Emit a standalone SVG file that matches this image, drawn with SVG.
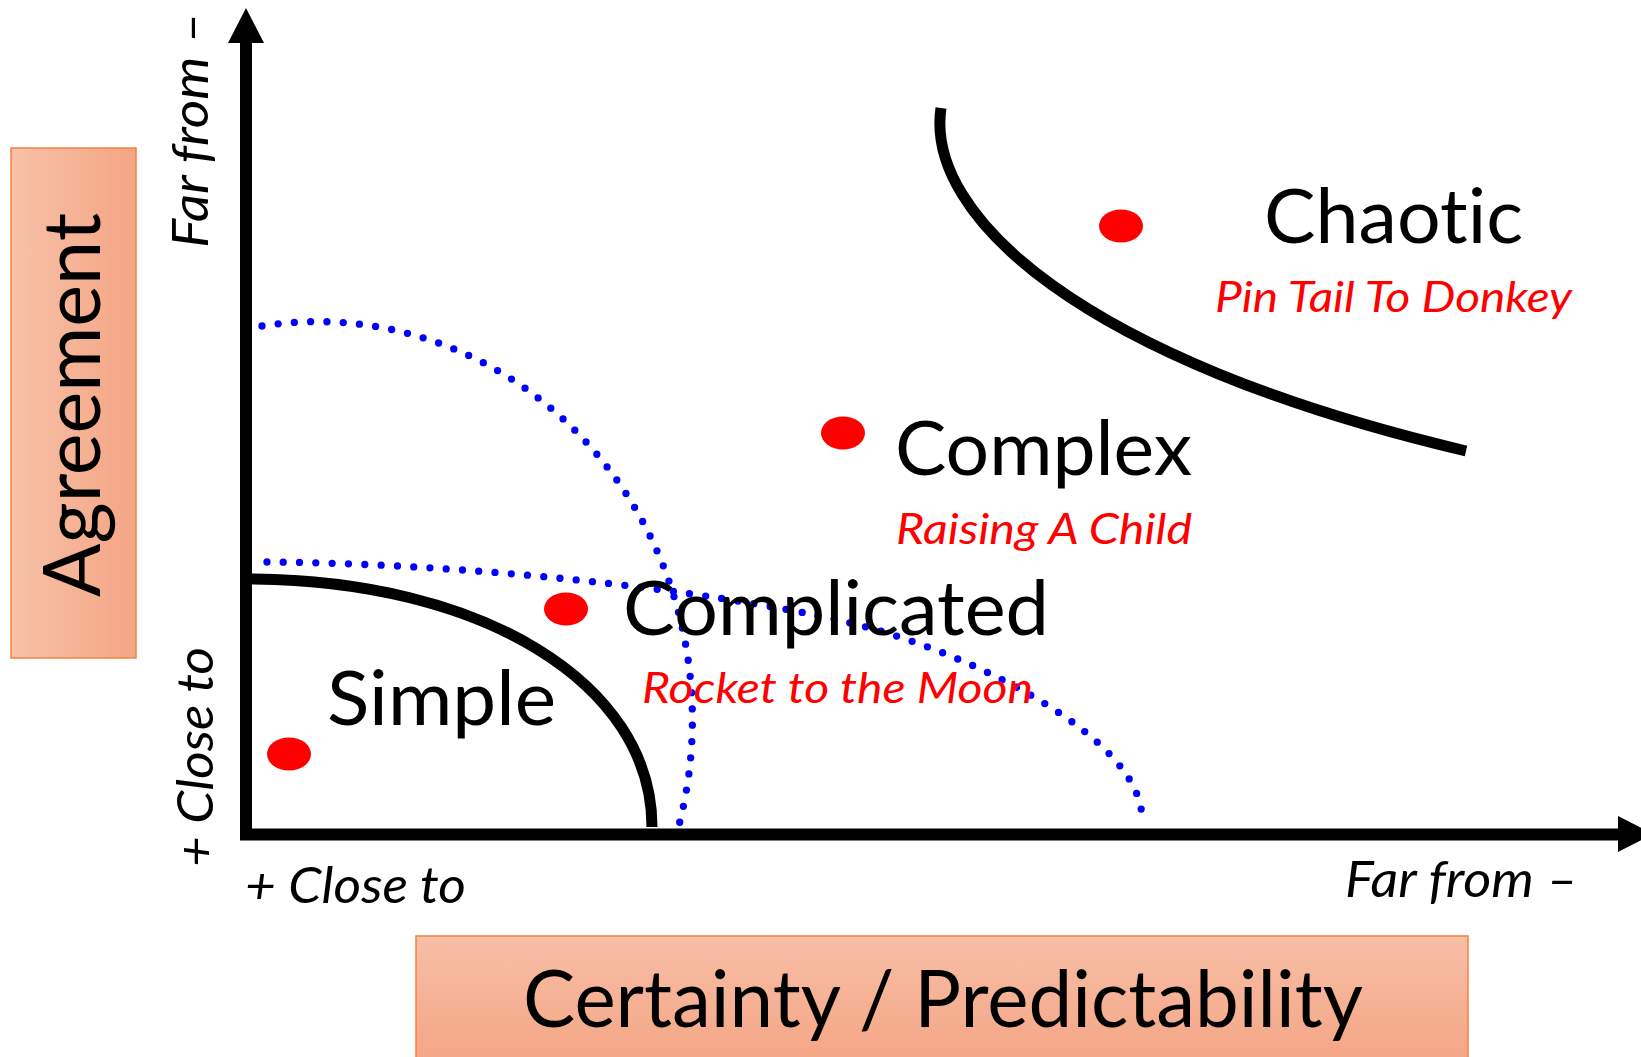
<svg xmlns="http://www.w3.org/2000/svg" width="1641" height="1057" viewBox="0 0 1641 1057">
<defs>
<linearGradient id="gH" x1="0" y1="0" x2="1" y2="0">
<stop offset="0" stop-color="#f7c1a9"/>
<stop offset="1" stop-color="#f4a583"/>
</linearGradient>
<linearGradient id="gV" x1="0" y1="0" x2="0" y2="1">
<stop offset="0" stop-color="#f7bea6"/>
<stop offset="1" stop-color="#f4a381"/>
</linearGradient>
<style>
text{font-variant-ligatures:none;font-feature-settings:"liga" 0,"clig" 0}
.box{stroke:#ef8440;stroke-width:1.5}
.axis{fill:none;stroke:#000;stroke-width:12;stroke-linejoin:miter}
.head{fill:#000}
.curve{fill:none;stroke:#000;stroke-width:11;stroke-linecap:butt}
.dots{fill:none;stroke:#0000ff;stroke-width:7.3;stroke-linecap:round;stroke-dasharray:0 16.3}
.dot{fill:#ff0000}
.big{font-family:Lato,"Liberation Sans",sans-serif;font-size:75px;fill:#000}
.ex{font-family:Lato,"Liberation Sans",sans-serif;font-size:42px;font-style:italic;fill:#ff0000}
.ax{font-family:Lato,"Liberation Sans",sans-serif;font-size:50px;font-style:italic;fill:#000}
.title{font-family:Lato,"Liberation Sans",sans-serif;font-size:80px;fill:#000}
</style>
</defs>
<rect width="1641" height="1057" fill="#fff"/>

<g id="agreement-box">
<rect class="box" x="11" y="148" width="125" height="510" fill="url(#gH)"/>
<text class="title" transform="translate(100,597) rotate(-90)" x="0" y="0" font-size="74" textLength="384" lengthAdjust="spacingAndGlyphs">Agreement</text>
</g>

<g id="certainty-box">
<rect class="box" x="416" y="936" width="1052" height="140" fill="url(#gV)"/>
<text class="title" x="523" y="1027" textLength="840" lengthAdjust="spacingAndGlyphs">Certainty / Predictability</text>
</g>

<g id="axes">
<path class="axis" d="M246,43 L246,834.5 L1618,834.5"/>
<polygon class="head" points="228,43 264,43 246,8"/>
<polygon class="head" points="1618,816 1618,852 1653,834"/>
<text class="ax" transform="translate(208,248) rotate(-90)" textLength="236" lengthAdjust="spacingAndGlyphs">Far from –</text>
<text class="ax" transform="translate(213,867) rotate(-90)" textLength="220" lengthAdjust="spacingAndGlyphs">+ Close to</text>
<text class="ax" x="245" y="903" textLength="221" lengthAdjust="spacingAndGlyphs">+ Close to</text>
<text class="ax" x="1345" y="897" textLength="233" lengthAdjust="spacingAndGlyphs">Far from –</text>
</g>

<g id="connectors">
<path id="simple-boundary" class="curve" d="M246,579 C481.5,579 652,683.2 652,827"/>
<path id="chaotic-boundary" class="curve" d="M941,108 C925,215 1080,360 1466,451"/>
<path id="complex-boundary" class="dots" d="M262,326 A375,398 0 0 1 676,836"/>
<path id="complicated-boundary" class="dots" d="M267,562 C500,564 750,596 866,627 C980,657.5 1142,740 1142,819"/>
</g>

<g id="simple">
<ellipse class="dot" cx="289" cy="754" rx="22" ry="16.5"/>
<text class="big" x="327" y="725" textLength="229" lengthAdjust="spacingAndGlyphs">Simple</text>
</g>

<g id="complicated">
<ellipse class="dot" cx="566" cy="609" rx="22" ry="16.5"/>
<text class="big" x="623" y="635" textLength="426" lengthAdjust="spacingAndGlyphs">Complicated</text>
<text class="ex" x="642" y="703" textLength="391" lengthAdjust="spacingAndGlyphs">Rocket to the Moon</text>
</g>

<g id="complex">
<ellipse class="dot" cx="843" cy="433" rx="22" ry="16.5"/>
<text class="big" x="895" y="475" textLength="297" lengthAdjust="spacingAndGlyphs">Complex</text>
<text class="ex" x="896" y="544" textLength="296" lengthAdjust="spacingAndGlyphs">Raising A Child</text>
</g>

<g id="chaotic">
<ellipse class="dot" cx="1121" cy="226" rx="22" ry="16.5"/>
<text class="big" x="1264" y="243" textLength="259" lengthAdjust="spacingAndGlyphs">Chaotic</text>
<text class="ex" x="1215" y="312" textLength="357" lengthAdjust="spacingAndGlyphs">Pin Tail To Donkey</text>
</g>
</svg>
